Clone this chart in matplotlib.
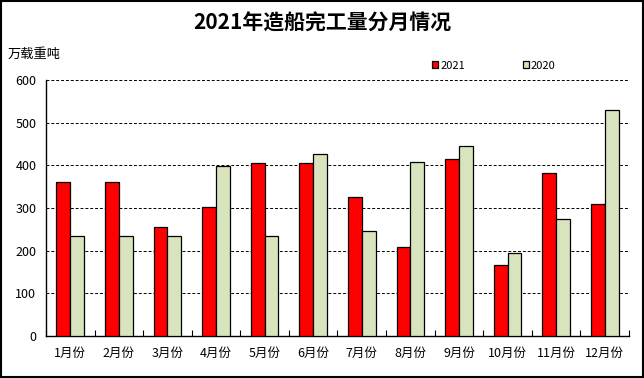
import matplotlib
matplotlib.use("Agg")
import matplotlib.pyplot as plt
from matplotlib.patches import Rectangle
import numpy as np

plt.rcParams['font.family'] = ['Noto Sans CJK SC', 'DejaVu Sans']

months = ['1月份', '2月份', '3月份', '4月份', '5月份', '6月份',
          '7月份', '8月份', '9月份', '10月份', '11月份', '12月份']
values_2021 = [360, 360, 255, 302, 405, 405, 326, 208, 415, 166, 382, 310]
values_2020 = [234, 234, 234, 399, 234, 427, 246, 408, 446, 194, 274, 530]
yticks = [0, 100, 200, 300, 400, 500, 600]

fig = plt.figure(figsize=(6.44, 3.78), dpi=100)
ax = fig.add_axes([0.0714, 0.1111, 0.9053, 0.6772])

x = np.arange(len(months))
w = 0.285
b1 = ax.bar(x - w / 2, values_2021, w, color='#FF0000', edgecolor='black',
            linewidth=0.9, label='2021', zorder=3)
b2 = ax.bar(x + w / 2, values_2020, w, color='#D7E4BD', edgecolor='black',
            linewidth=0.9, label='2020', zorder=3)

ax.set_xlim(-0.5, len(months) - 0.5)
ax.set_ylim(0, 600)
ax.set_yticks(yticks)
ax.set_yticklabels([str(v) for v in yticks], fontsize=9)
ax.tick_params(axis='y', length=0, pad=7)

ax.set_xticks(np.arange(-0.5, len(months), 1.0))
ax.set_xticklabels([])
ax.tick_params(axis='x', which='major', direction='in', length=4, width=0.8)
ax.set_xticks(x, minor=True)
ax.set_xticklabels(months, minor=True, fontsize=9)
ax.tick_params(axis='x', which='minor', length=0, pad=8)

ax.yaxis.grid(True, linestyle=(0, (3, 2)), color='black', linewidth=0.7, zorder=0)
ax.set_axisbelow(True)
for s in ['top', 'right']:
    ax.spines[s].set_visible(False)
ax.spines['left'].set_linewidth(1.0)
ax.spines['bottom'].set_linewidth(1.0)

fig.text(0.5, 0.94, '2021年造船完工量分月情况', ha='center', va='center',
         fontsize=15, fontweight='bold')
fig.text(0.012, 0.855, '万载重吨', ha='left', va='center', fontsize=9.5)

fig.legend(handles=[b1, b2], labels=['2021', '2020'], ncol=2, frameon=False,
           handlelength=0.6, handleheight=0.6, handletextpad=0.15,
           columnspacing=5.2, fontsize=8, loc='center left',
           bbox_to_anchor=(0.655, 0.826))

fig.patches.append(Rectangle((0.001, 0.002), 0.997, 0.996, transform=fig.transFigure,
                             fill=False, edgecolor='black', linewidth=1.5))

fig.savefig('out.png', dpi=100)
